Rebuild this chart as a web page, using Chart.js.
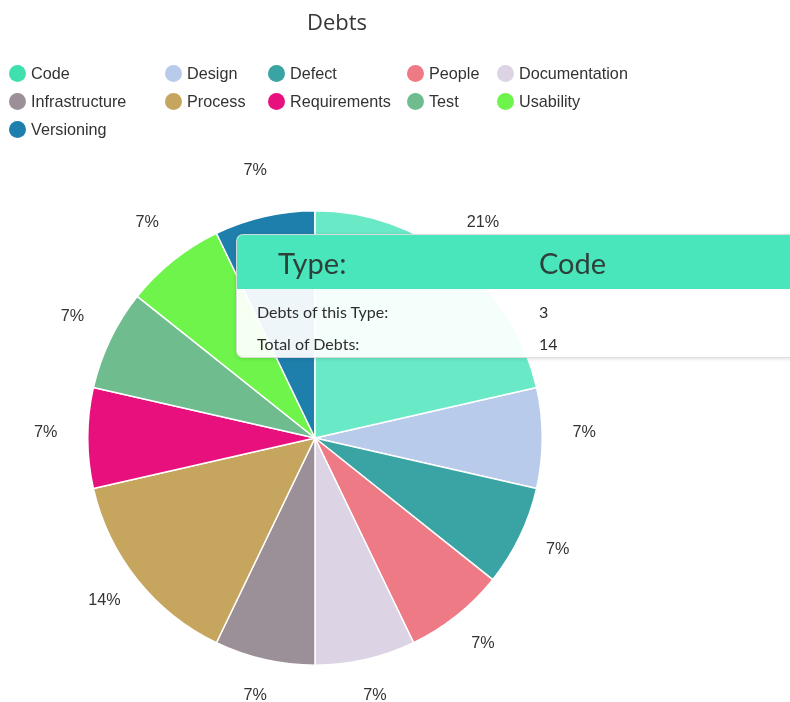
<!DOCTYPE html>
<html>
<head>
<meta charset="utf-8">
<title>Debts</title>
<script src="https://cdn.jsdelivr.net/npm/chart.js@4/dist/chart.umd.min.js"></script>
<style>
  html, body { margin: 0; padding: 0; background: #ffffff; }
  #wrap { position: relative; width: 790px; height: 702px; overflow: hidden; }
  #chart { position: absolute; left: 0; top: 0; }
  #title {
    position: absolute; left: 0; width: 674px; top: 6px;
    text-align: center; font-family: "Open Sans", sans-serif; font-size: 22px; color: #363636;
  }
  #legend {
    position: absolute; left: 9px; top: 59px;
    display: grid; grid-template-columns: 156px 103px 139px 90px auto;
    grid-auto-rows: 28px;
    font-family: "Liberation Sans", Arial, sans-serif; font-size: 16.2px; color: #333;
  }
  .item { display: flex; align-items: center; white-space: nowrap; }
  .dot { width: 17px; height: 17px; border-radius: 50%; margin-right: 5px; flex: none; }
  #tip {
    position: absolute; left: 236px; top: 234px; width: 620px; height: 122px;
    border-radius: 7px; overflow: hidden;
    background: rgba(255,255,255,0.93);
    border: 1px solid rgba(0,0,0,0.13);
    box-shadow: 0 1px 4px rgba(0,0,0,0.12);
    font-family: Lato, sans-serif; color: #2e2e2e;
    display: none;
  }
  #tip .head {
    height: 54px; background: rgba(66,229,185,0.96);
    display: flex; align-items: center; font-size: 29px; color: #2f403b;
  }
  #tip .row { display: flex; align-items: center; height: 32px; font-size: 16px; }
  #tip .head .k { width: 302px; padding-left: 41px; box-sizing: border-box; }
  #tip .row .k { width: 302px; padding-left: 20px; box-sizing: border-box; }
  #tip .body { padding-top: 6px; }
</style>
</head>
<body>
<div id="wrap">
  <canvas id="chart" width="790" height="702"></canvas>
  <div id="title"></div>
  <div id="legend"></div>
  <div id="tip"></div>
</div>
<script>
// Debt counts per type
const titleText = 'Debts';
const categories = ['Code', 'Design', 'Defect', 'People', 'Documentation', 'Infrastructure',
                    'Process', 'Requirements', 'Test', 'Usability', 'Versioning'];
const debtCounts = [3, 1, 1, 1, 1, 1, 2, 1, 1, 1, 1];
const sliceColors = ['#3fdfae', '#b8cbea', '#3aa3a3', '#ee7a86', '#dcd3e5', '#9b9097',
                     '#c6a65e', '#e8107d', '#6fbd8e', '#6ef44b', '#1f7fac'];
const hoverColors = ['#6ae9c7', '#b8cbea', '#3aa3a3', '#ee7a86', '#dcd3e5', '#9b9097',
                     '#c6a65e', '#e8107d', '#6fbd8e', '#6ef44b', '#1f7fac'];
const tipLabels = { header: 'Type:', count: 'Debts of this Type:', total: 'Total of Debts:' };

// Percentage labels drawn just outside each slice
const outsideLabels = {
  id: 'outsideLabels',
  afterDatasetsDraw(chart) {
    const ctx = chart.ctx;
    const meta = chart.getDatasetMeta(0);
    const values = chart.data.datasets[0].data;
    const sum = values.reduce((a, b) => a + b, 0);
    ctx.save();
    ctx.font = '16.2px "Liberation Sans", Arial, sans-serif';
    ctx.fillStyle = '#333333';
    ctx.textAlign = 'center';
    ctx.textBaseline = 'middle';
    meta.data.forEach((arc, i) => {
      const p = arc.getProps(['x', 'y', 'startAngle', 'endAngle', 'outerRadius'], true);
      const mid = (p.startAngle + p.endAngle) / 2;
      const r = p.outerRadius + 42;
      const x = p.x + Math.cos(mid) * r;
      const y = p.y + Math.sin(mid) * r - 5;
      ctx.fillText(Math.round(values[i] / sum * 100) + '%', x, y);
    });
    ctx.restore();
  }
};

// HTML tooltip with a coloured header band
function renderTip(context) {
  const tip = document.getElementById('tip');
  const tt = context.tooltip;
  if (!tt || tt.opacity === 0 || !tt.dataPoints || !tt.dataPoints.length) { tip.style.display = 'none'; return; }
  const dp = tt.dataPoints[0];
  const sum = dp.dataset.data.reduce((a, b) => a + b, 0);
  tip.innerHTML =
    '<div class="head"><span class="k">' + tipLabels.header + '</span><span>' + dp.label + '</span></div>' +
    '<div class="body">' +
    '<div class="row"><span class="k">' + tipLabels.count + '</span><span>' + dp.raw + '</span></div>' +
    '<div class="row"><span class="k">' + tipLabels.total + '</span><span>' + sum + '</span></div>' +
    '</div>';
  tip.style.display = 'block';
}

document.getElementById('title').textContent = titleText;

const chart = new Chart(document.getElementById('chart'), {
  type: 'pie',
  data: {
    labels: categories,
    datasets: [{
      data: debtCounts,
      backgroundColor: sliceColors,
      hoverBackgroundColor: hoverColors,
      borderColor: '#ffffff',
      hoverBorderColor: '#ffffff',
      borderWidth: 1.5,
      hoverOffset: 0
    }]
  },
  options: {
    responsive: false,
    animation: false,
    events: [],
    layout: { padding: { top: 210, bottom: 36, left: 0, right: 160 } },
    plugins: {
      title: { display: false },
      legend: { display: false },
      tooltip: { enabled: false, external: renderTip }
    }
  },
  plugins: [outsideLabels]
});

// Legend built from the chart's own label generator
const legendEl = document.getElementById('legend');
const items = Chart.overrides.pie.plugins.legend.labels.generateLabels(chart);
items.forEach(it => {
  const d = document.createElement('div');
  d.className = 'item';
  const dot = document.createElement('span');
  dot.className = 'dot';
  dot.style.background = it.fillStyle;
  const t = document.createElement('span');
  t.textContent = it.text;
  d.appendChild(dot);
  d.appendChild(t);
  legendEl.appendChild(d);
});

// Show the "Code" slice as hovered, with its tooltip open
const active = [{ datasetIndex: 0, index: 0 }];
chart.setActiveElements(active);
chart.tooltip.setActiveElements(active, { x: 400, y: 330 });
chart.update('none');
</script>
</body>
</html>
